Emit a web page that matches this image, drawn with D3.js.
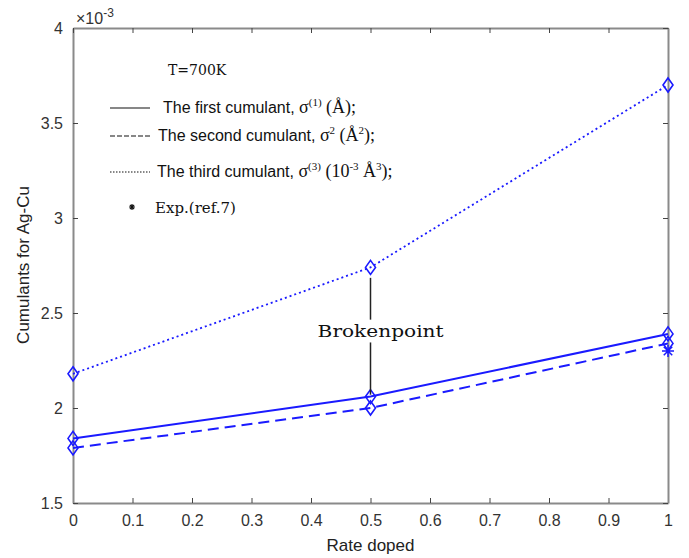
<!DOCTYPE html>
<html>
<head>
<meta charset="utf-8">
<script src="https://cdn.jsdelivr.net/npm/d3@7"></script>
<style>
  body { margin: 0; background: #fff; }
  svg { display: block; }
  .tick text { font-family: "Liberation Sans", Arial, sans-serif; font-size: 16px; fill: #333; }
</style>
</head>
<body>
<svg id="chart" width="689" height="558"></svg>
<script>
// data (values in units of 1e-3)
var rate = [0, 0.5, 1];
var first = [1.84, 2.06, 2.39];    // solid
var second = [1.79, 2.00, 2.34];   // dashed
var third = [2.18, 2.74, 3.70];    // dotted
var expRate = [1];
var expVal = [2.30];
var xTicks = [0, 0.1, 0.2, 0.3, 0.4, 0.5, 0.6, 0.7, 0.8, 0.9, 1];
var yTicks = [1.5, 2, 2.5, 3, 3.5, 4];

var svg = d3.select('#chart');
var margin = {top: 28, right: 21, bottom: 55, left: 73},
  width = 689, height = 558,
  w = width - margin.left - margin.right,
  h = height - margin.top - margin.bottom;

var g = svg.append('g').attr('transform', 'translate(' + margin.left + ',' + margin.top + ')');

var x = d3.scaleLinear().domain([0, 1]).range([0, w]);
var y = d3.scaleLinear().domain([1.5, 4]).range([h, 0]);

var blue = '#1a1aff';
var axisGray = '#8a8a8a';

// axes (Matlab box style, ticks inside)
var xAxis = g.append('g').attr('transform', 'translate(0,' + h + ')')
  .call(d3.axisBottom(x).tickValues(xTicks).tickSizeInner(-5).tickSizeOuter(0).tickPadding(9)
    .tickFormat(d3.format('')));
var yAxis = g.append('g')
  .call(d3.axisLeft(y).tickValues(yTicks).tickSizeInner(-5).tickSizeOuter(0).tickPadding(10)
    .tickFormat(d3.format('')));
var xTop = g.append('g')
  .call(d3.axisTop(x).tickValues(xTicks).tickSizeInner(-5).tickSizeOuter(0).tickFormat(''));
var yRight = g.append('g').attr('transform', 'translate(' + w + ',0)')
  .call(d3.axisRight(y).tickValues(yTicks).tickSizeInner(-5).tickSizeOuter(0).tickFormat(''));

[xAxis, yAxis, xTop, yRight].forEach(function(a) {
  a.select('.domain').attr('stroke', axisGray).attr('stroke-width', 2);
  a.selectAll('.tick line').attr('stroke', '#444').attr('stroke-width', 1);
});
xAxis.selectAll('.tick text').attr('dy', '0.85em');

// series lines
var line = d3.line().x(function(d, i) { return x(rate[i]); }).y(function(d) { return y(d); });

g.append('path').datum(first).attr('d', line)
  .attr('fill', 'none').attr('stroke', blue).attr('stroke-width', 2);
g.append('path').datum(second).attr('d', line)
  .attr('fill', 'none').attr('stroke', blue).attr('stroke-width', 2).attr('stroke-dasharray', '11,6');
g.append('path').datum(third).attr('d', line)
  .attr('fill', 'none').attr('stroke', blue).attr('stroke-width', 1.8).attr('stroke-dasharray', '2,3');

// diamond markers
function diamond(cx, cy) {
  var dx = 5, dy = 7;
  return 'M' + cx + ',' + (cy - dy) + 'L' + (cx + dx) + ',' + cy + 'L' + cx + ',' + (cy + dy) +
    'L' + (cx - dx) + ',' + cy + 'Z';
}
[first, second, third].forEach(function(s) {
  g.selectAll(null).data(s).enter().append('path')
    .attr('d', function(d, i) { return diamond(x(rate[i]), y(d)); })
    .attr('fill', 'none').attr('stroke', blue).attr('stroke-width', 1.6);
});

// experimental point: asterisk
function asterisk(cx, cy, r) {
  var p = '';
  for (var k = 0; k < 4; k++) {
    var a = k * Math.PI / 4;
    p += 'M' + (cx - r * Math.sin(a)) + ',' + (cy - r * Math.cos(a)) + 'L' + (cx + r * Math.sin(a)) + ',' + (cy + r * Math.cos(a));
  }
  return p;
}
g.selectAll(null).data(expVal).enter().append('path')
  .attr('d', function(d, i) { return asterisk(x(expRate[i]), y(d), 6); })
  .attr('stroke', blue).attr('stroke-width', 1.5).attr('fill', 'none');

// Brokenpoint annotation
var bx = x(0.5);
g.append('line').attr('x1', bx).attr('x2', bx).attr('y1', y(2.685)).attr('y2', y(2.465))
  .attr('stroke', '#222').attr('stroke-width', 1.5);
g.append('line').attr('x1', bx).attr('x2', bx).attr('y1', y(2.345)).attr('y2', y(2.07))
  .attr('stroke', '#222').attr('stroke-width', 1.5);
g.append('text').attr('x', x(0.517)).attr('y', y(2.405)).attr('dy', '0.35em')
  .attr('text-anchor', 'middle')
  .style('font-family', '"DejaVu Serif", serif').style('font-size', '17px').attr('fill', '#111')
  .attr('textLength', 126).attr('lengthAdjust', 'spacingAndGlyphs')
  .text('Brokenpoint');

// axis labels
svg.append('text').attr('x', margin.left + w / 2).attr('y', 551).attr('text-anchor', 'middle')
  .style('font-family', '"Liberation Sans", Arial, sans-serif').style('font-size', '17px').attr('fill', '#222')
  .text('Rate doped');
svg.append('text').attr('transform', 'translate(29,265) rotate(-90)')
  .attr('text-anchor', 'middle')
  .style('font-family', '"Liberation Sans", Arial, sans-serif').style('font-size', '17px').attr('fill', '#222')
  .text('Cumulants for Ag-Cu');

// exponent label
var ex = svg.append('text').attr('x', 76).attr('y', 24)
  .style('font-family', '"Liberation Sans", Arial, sans-serif').style('font-size', '16px').attr('fill', '#333');
ex.append('tspan').text('\u00d710');
ex.append('tspan').attr('dy', -7).style('font-size', '12px').text('-3');

// legend
var sans = '"Liberation Sans", Arial, sans-serif', serif = '"Liberation Serif", "Times New Roman", serif',
  cserif = '"DejaVu Serif", serif';
svg.append('text').attr('x', 168).attr('y', 75).style('font-family', cserif).style('font-size', '14px')
  .attr('fill', '#111').text('T=700K');

var legendRows = [
  {y: 108, x: 163, dash: null, parts: [
    ['The first cumulant, ', sans, 0], ['\u03c3', serif, 0], ['(1)', serif, 1], [' (\u00c5);', serif, 0]]},
  {y: 136, x: 158, dash: '5,2', parts: [
    ['The second cumulant, ', sans, 0], ['\u03c3', serif, 0], ['2', serif, 1], [' (\u00c5', serif, 0], ['2', serif, 1], [');', serif, 0]]},
  {y: 172, x: 157, dash: '1.5,1.5', parts: [
    ['The third cumulant, ', sans, 0], ['\u03c3', serif, 0], ['(3)', serif, 1], [' (10', serif, 0], ['-3', serif, 1], [' \u00c5', serif, 0], ['3', serif, 1], [');', serif, 0]]}
];
legendRows.forEach(function(r) {
  svg.append('line').attr('x1', 110).attr('x2', 150).attr('y1', r.y).attr('y2', r.y)
    .attr('stroke', '#111').attr('stroke-width', 1.2).attr('stroke-dasharray', r.dash);
  var t = svg.append('text').attr('x', r.x).attr('y', r.y + 5).attr('fill', '#111');
  var prevSup = 0;
  r.parts.forEach(function(p) {
    var sp = t.append('tspan').style('font-family', p[1]).text(p[0]);
    var dy = 0;
    if (p[2] && !prevSup) dy = -7;
    if (!p[2] && prevSup) dy = 7;
    if (dy) sp.attr('dy', dy);
    sp.style('font-size', p[2] ? '11px' : (p[1] === sans ? '16px' : '18px'));
    prevSup = p[2];
  });
});
svg.append('path').attr('d', asterisk(132, 207, 3)).attr('stroke', '#111').attr('stroke-width', 1.2);
svg.append('text').attr('x', 155).attr('y', 213).style('font-family', cserif).style('font-size', '15px')
  .attr('fill', '#111').text('Exp.(ref.7)');
</script>
</body>
</html>
